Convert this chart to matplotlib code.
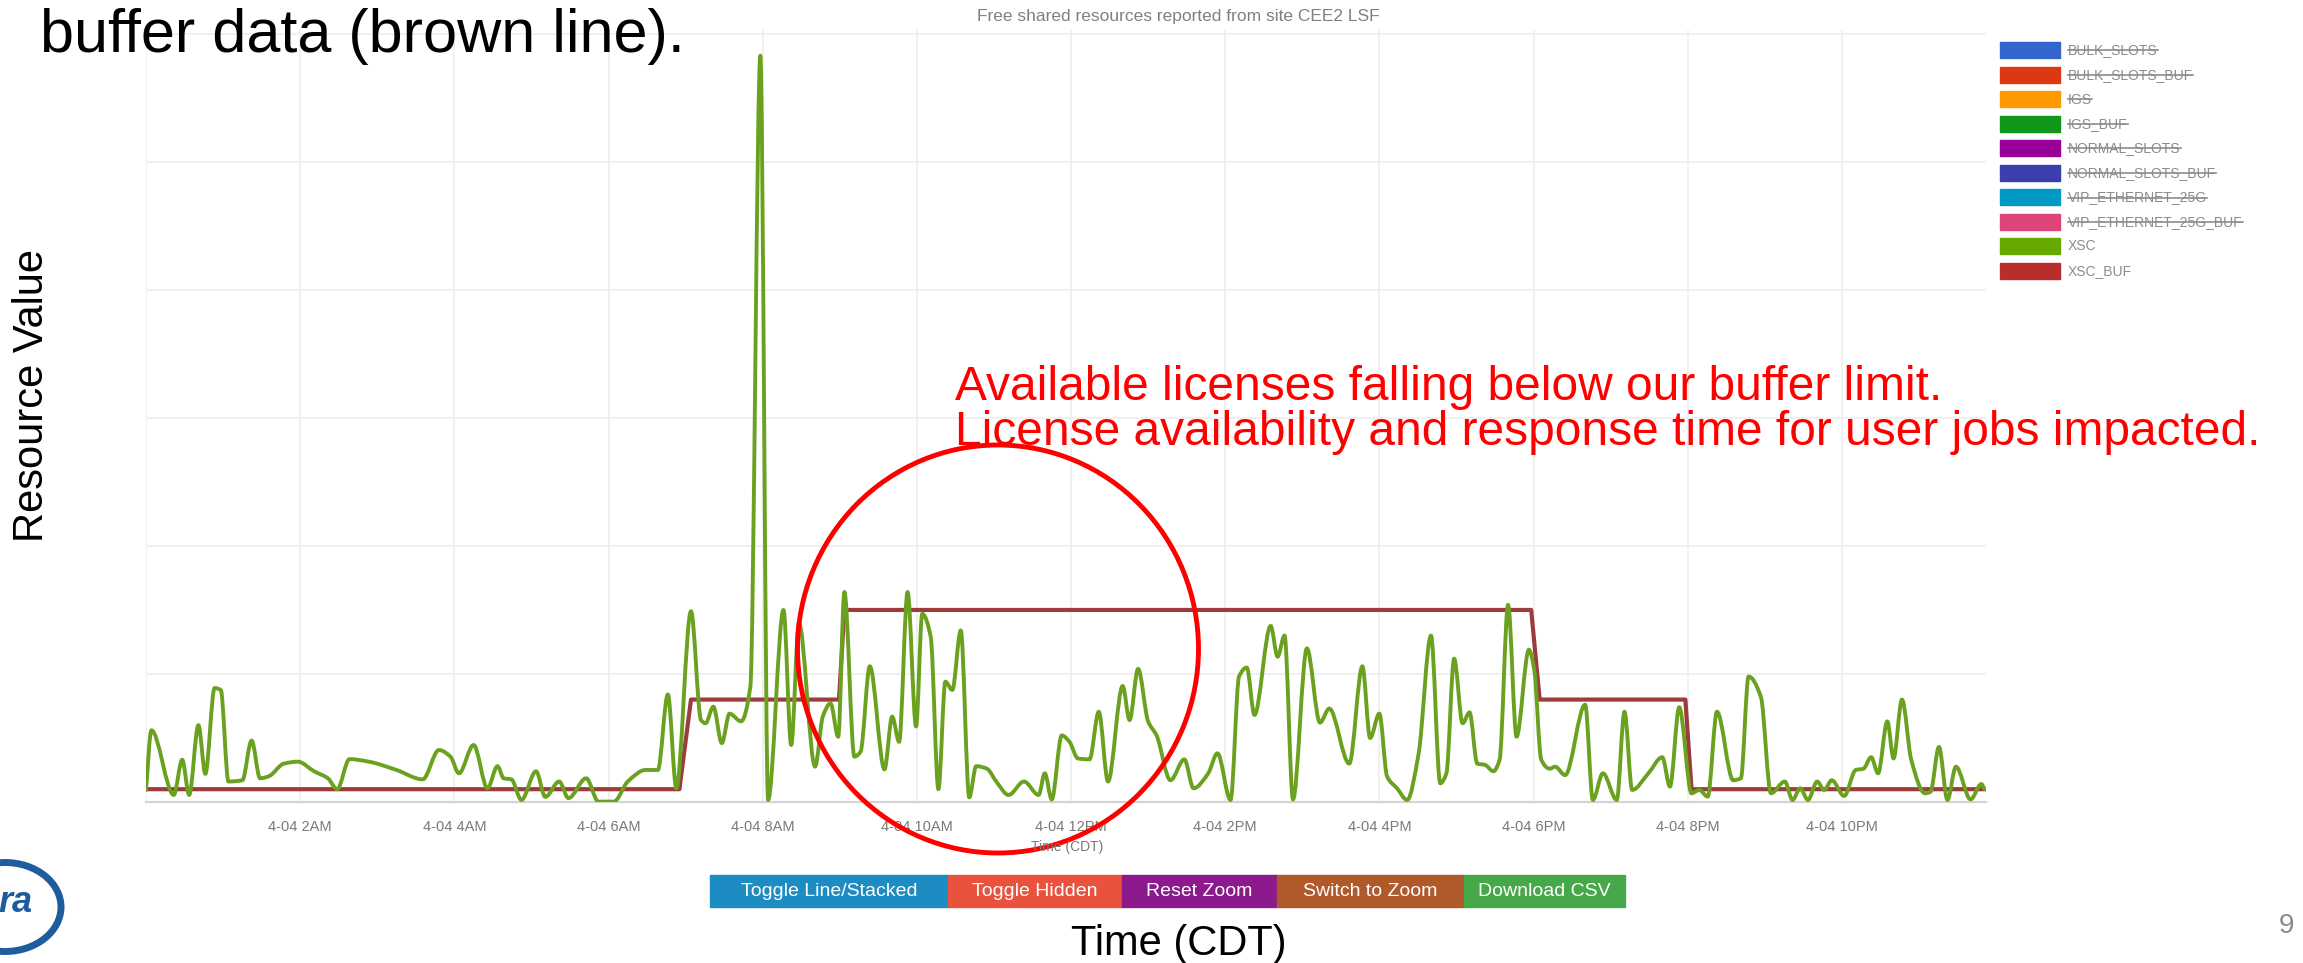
import matplotlib
matplotlib.use("Agg")
import matplotlib.pyplot as plt
from matplotlib.patches import Rectangle, Ellipse, PathPatch
from matplotlib.lines import Line2D
from matplotlib.path import Path

plt.rcParams['font.family'] = ['Liberation Sans', 'DejaVu Sans']

W, H = 2303, 963          # output size in pixels

# ---- data (hours since 4-04 00:00, gridline = 10) ----
xsc_hours = [0.0, 0.07, 0.36, 0.47, 0.56, 0.68, 0.77, 0.89, 0.97, 1.07,
             1.25, 1.37, 1.48, 1.59, 1.79, 1.97, 2.18, 2.36, 2.48, 2.64,
             2.89, 3.25, 3.59, 3.80, 3.95, 4.06, 4.25, 4.43, 4.56, 4.64,
             4.74, 4.87, 5.06, 5.18, 5.36, 5.48, 5.71, 5.87, 6.07, 6.25,
             6.48, 6.64, 6.77, 6.88, 7.07, 7.20, 7.26, 7.36, 7.47, 7.57,
             7.72, 7.84, 7.97,
             8.07, 8.27, 8.37, 8.47, 8.68, 8.78, 8.88, 8.98, 9.06, 9.19,
             9.27, 9.39, 9.58, 9.68, 9.77, 9.88, 9.99, 10.07, 10.18, 10.28,
             10.37, 10.46, 10.57, 10.68, 10.77, 10.91, 11.03, 11.19, 11.39, 11.58,
             11.66, 11.75, 11.88, 11.98, 12.09, 12.24, 12.36, 12.48, 12.67, 12.76,
             12.87, 13.0, 13.11, 13.29, 13.47, 13.59, 13.78, 13.9, 14.07, 14.18,
             14.28, 14.38, 14.59, 14.68, 14.77, 14.88, 15.06, 15.23, 15.35, 15.61,
             15.78, 15.88,
             16.0, 16.1, 16.23, 16.36, 16.51, 16.67, 16.79, 16.87, 16.97, 17.08,
             17.17, 17.27, 17.37, 17.48, 17.56, 17.67, 17.78, 17.94, 18.01, 18.1,
             18.21, 18.28, 18.41, 18.67, 18.77, 18.9, 19.08, 19.18, 19.28, 19.49,
             19.67, 19.77, 19.89, 20.05, 20.15, 20.26, 20.38, 20.59, 20.69, 20.79,
             20.95, 21.08, 21.26, 21.36, 21.46, 21.56, 21.68, 21.77, 21.87, 22.03,
             22.18, 22.28, 22.38, 22.47, 22.59, 22.67, 22.78, 22.9, 23.08, 23.15,
             23.26, 23.37, 23.48, 23.67, 23.81, 23.85]
xsc_vals = [0.94, 5.6, 0.55, 3.3, 0.55, 6.0, 2.2, 8.9, 8.75, 1.6,
            1.7, 4.8, 1.85, 2.0, 3.0, 3.15, 2.4, 1.85, 1.0, 3.35,
            3.15, 2.5, 1.77, 4.06, 3.54, 2.24, 4.45, 1.07, 2.8, 1.85,
            1.77, 0.16, 2.4, 0.4, 1.6, 0.3, 1.85, 0.03, 0.03, 1.6,
            2.5, 2.5, 8.4, 1.07, 14.9, 6.4, 6.15, 7.45, 4.6, 6.9,
            6.3, 9.0, 58.3,
            0.16, 15.0, 4.45, 14.0, 2.76, 6.67, 7.7, 5.1, 16.4, 3.54,
            3.93, 10.6, 2.55, 6.67, 4.7, 16.4, 5.9, 14.7, 12.9, 1.0,
            9.4, 8.75, 13.4, 0.36, 2.8, 2.6, 1.6, 0.55, 1.6, 0.55,
            2.24, 0.2, 5.2, 4.7, 3.4, 3.33, 7.05, 1.6, 9.06, 6.4,
            10.4, 6.3, 5.2, 1.7, 3.33, 1.07, 2.24, 3.8, 0.16, 9.8,
            10.5, 6.8, 13.75, 11.35, 13.0, 0.2, 12.0, 6.2, 7.3, 3.0,
            10.6, 5.0,
            6.9, 2.0, 1.07, 0.16, 3.8, 13.0, 1.46, 2.24, 11.2, 6.15,
            7.0, 3.0, 2.9, 2.4, 3.3, 15.4, 5.1, 11.9, 10.3, 3.3,
            2.6, 2.76, 2.1, 7.6, 0.16, 2.24, 0.16, 7.05, 0.94, 2.24,
            3.5, 1.2, 7.4, 0.68, 0.94, 0.42, 7.05, 1.7, 1.85, 9.8,
            8.2, 0.68, 1.6, 0.16, 1.07, 0.16, 1.6, 0.94, 1.7, 0.47,
            2.5, 2.6, 3.5, 2.24, 6.3, 3.4, 8.0, 3.3, 0.68, 0.8,
            4.3, 0.16, 2.76, 0.2, 1.4, 1.0]

buf_hours = [0.0, 6.92, 7.07, 8.99, 9.06, 17.97, 18.08, 19.97, 20.05, 23.85]
buf_vals = [1, 1, 8, 8, 15, 15, 8, 8, 1, 1]

tick_hours = [2, 4, 6, 8, 10, 12, 14, 16, 18, 20, 22]
tick_labels = ["4-04 2AM", "4-04 4AM", "4-04 6AM", "4-04 8AM", "4-04 10AM",
               "4-04 12PM", "4-04 2PM", "4-04 4PM", "4-04 6PM", "4-04 8PM",
               "4-04 10PM"]

legend_names = ["BULK_SLOTS", "BULK_SLOTS_BUF", "IGS", "IGS_BUF", "NORMAL_SLOTS",
                "NORMAL_SLOTS_BUF", "VIP_ETHERNET_25G", "VIP_ETHERNET_25G_BUF",
                "XSC", "XSC_BUF"]
legend_colors = ["#3366cc", "#dc3912", "#ff9900", "#109618", "#990099",
                 "#3b3eac", "#0099c6", "#dd4477", "#66aa00", "#b82e2e"]
legend_hidden = [True] * 8 + [False] * 2

button_names = ["Toggle Line/Stacked", "Toggle Hidden", "Reset Zoom",
                "Switch to Zoom", "Download CSV"]
button_colors = ["#1d8cc2", "#e9533d", "#8c1a8c", "#b0592b", "#47a84a"]


def fx(x):
    return x / W


def fy(y):
    return 1 - y / H


def smooth_path(xs, ys):
    # monotone cubic (Fritsch-Carlson) curve through the points, drawn as Bezier
    n = len(xs)
    h = [xs[i + 1] - xs[i] for i in range(n - 1)]
    d = [(ys[i + 1] - ys[i]) / h[i] for i in range(n - 1)]
    m = [d[0]] + [0.0] * (n - 2) + [d[-1]]
    for i in range(1, n - 1):
        if d[i - 1] * d[i] > 0:
            w1 = 2 * h[i] + h[i - 1]
            w2 = h[i] + 2 * h[i - 1]
            m[i] = (w1 + w2) / (w1 / d[i - 1] + w2 / d[i])
    verts = [(xs[0], ys[0])]
    codes = [Path.MOVETO]
    for i in range(n - 1):
        k = h[i] / 3
        verts += [(xs[i] + k, ys[i] + m[i] * k),
                  (xs[i + 1] - k, ys[i + 1] - m[i + 1] * k),
                  (xs[i + 1], ys[i + 1])]
        codes += [Path.CURVE4] * 3
    return Path(verts, codes)


fig = plt.figure(figsize=(W / 100, H / 100), dpi=100)
fig.patch.set_facecolor("white")

# ---- the chart itself ----
ax = fig.add_axes([fx(146), fy(802), (1986 - 146) / W, (802 - 30) / H])
ax.set_xlim(0, 23.87)
ax.set_ylim(0, 60.3)
ax.set_xticks(tick_hours)
ax.set_xticklabels(tick_labels)
ax.set_yticks([10, 20, 30, 40, 50, 60])
ax.set_yticklabels([])
ax.grid(True, color="#efefef", lw=1.3)
ax.axvline(0, color="#efefef", lw=1.3, zorder=0)
ax.set_axisbelow(True)
for s in ["top", "right", "left"]:
    ax.spines[s].set_visible(False)
ax.spines["bottom"].set_color("#d4d4d4")
ax.spines["bottom"].set_linewidth(1.6)
ax.tick_params(length=0, labelsize=10.5, labelcolor="#7a7a7a", pad=13)

ax.plot(buf_hours, buf_vals, color="#9c3c3c", lw=3.0, zorder=3,
        solid_joinstyle="round")
ax.add_patch(PathPatch(smooth_path(xsc_hours, xsc_vals), fill=False,
                       ec="#6aa11f", lw=2.8, zorder=4, joinstyle="round",
                       capstyle="round"))

fig.text(fx(1178), fy(17), "Free shared resources reported from site CEE2 LSF",
         fontsize=12.5, color="#808080", ha="center", va="center")
fig.text(fx(1067), fy(847), "Time (CDT)", fontsize=10, color="#7a7a7a",
         ha="center", va="center")

# legend (series toggled off are struck through)
legend_texts = []
for i, (name, col) in enumerate(zip(legend_names, legend_colors)):
    yc = 50.5 + 24.5 * i
    fig.add_artist(Rectangle((fx(2000), fy(yc + 8)), 60 / W, 16 / H,
                             transform=fig.transFigure, color=col))
    t = fig.text(fx(2068), fy(yc), name, fontsize=10, color="#8c8c8c",
                 ha="left", va="center")
    legend_texts.append(t)

# buttons under the chart
edges = [710, 948, 1122, 1277, 1464, 1625]
for i, (name, col) in enumerate(zip(button_names, button_colors)):
    fig.add_artist(Rectangle((fx(edges[i]), fy(907)), (edges[i + 1] - edges[i]) / W,
                             32 / H, transform=fig.transFigure, color=col))
    fig.text(fx((edges[i] + edges[i + 1]) / 2), fy(891), name, fontsize=14,
             color="white", ha="center", va="center")

# ---- slide text around the chart ----
fig.text(fx(40), fy(52), "buffer data (brown line).", fontsize=44,
         ha="left", va="baseline")
fig.text(fx(32), fy(395), "Resource Value", fontsize=30, rotation=90,
         ha="center", va="center")
fig.text(fx(1179), fy(955), "Time (CDT)", fontsize=30, ha="center",
         va="baseline")
fig.text(fx(955), fy(400), "Available licenses falling below our buffer limit.",
         fontsize=34.5, color="red", ha="left", va="baseline")
fig.text(fx(955), fy(445),
         "License availability and response time for user jobs impacted.",
         fontsize=34.5, color="red", ha="left", va="baseline")
fig.add_artist(Ellipse((fx(998), fy(649)), 401 / W, 408 / H,
                       transform=fig.transFigure, fill=False, ec="red", lw=3.5))
fig.text(fx(2287), fy(926), "9", fontsize=20, color="#8a8a8a",
         ha="center", va="center")

# partial logo at bottom-left
fig.add_artist(Ellipse((fx(5), fy(907)), 112 / W, 89 / H,
                       transform=fig.transFigure, fill=False, ec="#1f5c9e", lw=5))
fig.text(fx(-2), fy(902), "ra", fontsize=26, fontweight="bold", style="italic",
         color="#1f5c9e", ha="left", va="center")

fig.canvas.draw()
r = fig.canvas.get_renderer()
for t, hidden in zip(legend_texts, legend_hidden):
    if hidden:
        bb = t.get_window_extent(r)
        ym = (bb.y0 + bb.y1) / 2
        fig.add_artist(Line2D([bb.x0 / W, bb.x1 / W], [ym / H, ym / H],
                              transform=fig.transFigure, color="#8c8c8c", lw=1.2))

fig.savefig("out.png", dpi=100)
